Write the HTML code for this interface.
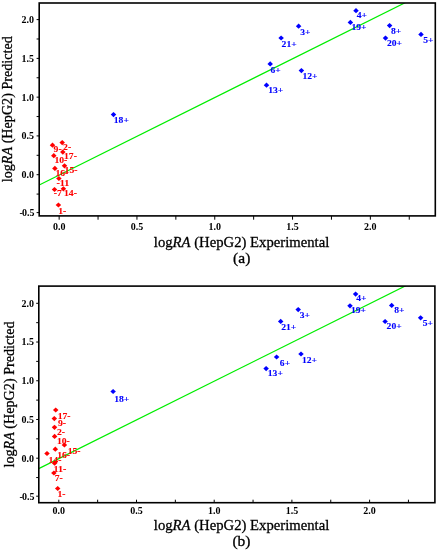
<!DOCTYPE html>
<html><head><meta charset="utf-8"><title>logRA (HepG2) Predicted vs Experimental</title>
<style>
html,body{margin:0;padding:0;background:#fff;}
svg{display:block;}
.tk{font-family:'Liberation Serif', 'Times New Roman', serif;font-weight:bold;font-size:10px;fill:#000;}
.dl{font-family:'Liberation Serif', 'Times New Roman', serif;font-weight:bold;font-size:8.9px;stroke-width:0.1px;}
.at{font-family:'Liberation Serif', 'Times New Roman', serif;font-size:15.5px;fill:#000;stroke:#000;stroke-width:0.3px;}
</style></head>
<body>
<svg width="437" height="550" viewBox="0 0 437 550">
<rect width="437" height="550" fill="#fff"/>
<clipPath id="ca"><rect x="39.2" y="3" width="396.1" height="212.9"/></clipPath>
<line x1="23.64" y1="192.85" x2="450.86" y2="-20.08" stroke="#00ee00" stroke-width="1.2" clip-path="url(#ca)"/>
<rect x="39.2" y="3" width="396.1" height="212.9" fill="none" stroke="#000" stroke-width="1.6"/>
<line x1="36.6" y1="212.6" x2="39.2" y2="212.6" stroke="#000" stroke-width="1"/>
<text x="34.5" y="216.4" text-anchor="end" class="tk">-<tspan dx="-0.9">0.5</tspan></text>
<line x1="36.6" y1="194.09" x2="39.2" y2="194.09" stroke="#000" stroke-width="1"/>
<line x1="36.6" y1="174.7" x2="39.2" y2="174.7" stroke="#000" stroke-width="1"/>
<text x="34" y="178.1" text-anchor="end" class="tk">0.0</text>
<line x1="36.6" y1="155.31" x2="39.2" y2="155.31" stroke="#000" stroke-width="1"/>
<line x1="36.6" y1="135.92" x2="39.2" y2="135.92" stroke="#000" stroke-width="1"/>
<text x="34" y="139.32" text-anchor="end" class="tk">0.5</text>
<line x1="36.6" y1="116.54" x2="39.2" y2="116.54" stroke="#000" stroke-width="1"/>
<line x1="36.6" y1="97.15" x2="39.2" y2="97.15" stroke="#000" stroke-width="1"/>
<text x="34" y="100.55" text-anchor="end" class="tk">1.0</text>
<line x1="36.6" y1="77.76" x2="39.2" y2="77.76" stroke="#000" stroke-width="1"/>
<line x1="36.6" y1="58.38" x2="39.2" y2="58.38" stroke="#000" stroke-width="1"/>
<text x="34" y="61.77" text-anchor="end" class="tk">1.5</text>
<line x1="36.6" y1="38.99" x2="39.2" y2="38.99" stroke="#000" stroke-width="1"/>
<line x1="36.6" y1="19.6" x2="39.2" y2="19.6" stroke="#000" stroke-width="1"/>
<text x="34" y="23" text-anchor="end" class="tk">2.0</text>
<line x1="59.15" y1="215.9" x2="59.15" y2="219.7" stroke="#000" stroke-width="1"/>
<text x="59.15" y="230.2" text-anchor="middle" class="tk">0.0</text>
<line x1="98.05" y1="215.9" x2="98.05" y2="219.7" stroke="#000" stroke-width="1"/>
<line x1="136.95" y1="215.9" x2="136.95" y2="219.7" stroke="#000" stroke-width="1"/>
<text x="136.95" y="230.2" text-anchor="middle" class="tk">0.5</text>
<line x1="175.85" y1="215.9" x2="175.85" y2="219.7" stroke="#000" stroke-width="1"/>
<line x1="214.75" y1="215.9" x2="214.75" y2="219.7" stroke="#000" stroke-width="1"/>
<text x="214.75" y="230.2" text-anchor="middle" class="tk">1.0</text>
<line x1="253.65" y1="215.9" x2="253.65" y2="219.7" stroke="#000" stroke-width="1"/>
<line x1="292.55" y1="215.9" x2="292.55" y2="219.7" stroke="#000" stroke-width="1"/>
<text x="292.55" y="230.2" text-anchor="middle" class="tk">1.5</text>
<line x1="331.45" y1="215.9" x2="331.45" y2="219.7" stroke="#000" stroke-width="1"/>
<line x1="370.35" y1="215.9" x2="370.35" y2="219.7" stroke="#000" stroke-width="1"/>
<text x="370.35" y="230.2" text-anchor="middle" class="tk">2.0</text>
<line x1="409.25" y1="215.9" x2="409.25" y2="219.7" stroke="#000" stroke-width="1"/>
<polygon points="356,8.1 358.75,10.7 356,13.3 353.25,10.7" fill="#0000ff"/>
<polygon points="350.4,19.8 353.15,22.4 350.4,25 347.65,22.4" fill="#0000ff"/>
<polygon points="389.6,23 392.35,25.6 389.6,28.2 386.85,25.6" fill="#0000ff"/>
<polygon points="385.5,35.5 388.25,38.1 385.5,40.7 382.75,38.1" fill="#0000ff"/>
<polygon points="421,31.8 423.75,34.4 421,37 418.25,34.4" fill="#0000ff"/>
<polygon points="298.6,23.6 301.35,26.2 298.6,28.8 295.85,26.2" fill="#0000ff"/>
<polygon points="281.1,35.4 283.85,38 281.1,40.6 278.35,38" fill="#0000ff"/>
<polygon points="270.2,61.3 272.95,63.9 270.2,66.5 267.45,63.9" fill="#0000ff"/>
<polygon points="301.4,68 304.15,70.6 301.4,73.2 298.65,70.6" fill="#0000ff"/>
<polygon points="266.5,82.6 269.25,85.2 266.5,87.8 263.75,85.2" fill="#0000ff"/>
<polygon points="113.5,112 116.25,114.6 113.5,117.2 110.75,114.6" fill="#0000ff"/>
<polygon points="52.5,142.6 55.25,145.2 52.5,147.8 49.75,145.2" fill="#ff0000"/>
<polygon points="62.2,140 64.95,142.6 62.2,145.2 59.45,142.6" fill="#ff0000"/>
<polygon points="62.8,149.5 65.55,152.1 62.8,154.7 60.05,152.1" fill="#ff0000"/>
<polygon points="53.8,153.1 56.55,155.7 53.8,158.3 51.05,155.7" fill="#ff0000"/>
<polygon points="64.5,163.2 67.25,165.8 64.5,168.4 61.75,165.8" fill="#ff0000"/>
<polygon points="54.9,165.8 57.65,168.4 54.9,171 52.15,168.4" fill="#ff0000"/>
<polygon points="58.9,175.9 61.65,178.5 58.9,181.1 56.15,178.5" fill="#ff0000"/>
<polygon points="54.5,186.9 57.25,189.5 54.5,192.1 51.75,189.5" fill="#ff0000"/>
<polygon points="63.4,186.2 66.15,188.8 63.4,191.4 60.65,188.8" fill="#ff0000"/>
<polygon points="58.4,202.4 61.15,205 58.4,207.6 55.65,205" fill="#ff0000"/>
<text x="356.66" y="17.8" class="dl" fill="#0000ff" stroke="#0000ff" textLength="10.25" lengthAdjust="spacingAndGlyphs">4+</text>
<text x="351.4" y="29.9" class="dl" fill="#0000ff" stroke="#0000ff" textLength="15.1" lengthAdjust="spacingAndGlyphs">19+</text>
<text x="390.97" y="33.5" class="dl" fill="#0000ff" stroke="#0000ff" textLength="10.25" lengthAdjust="spacingAndGlyphs">8+</text>
<text x="386.98" y="46" class="dl" fill="#0000ff" stroke="#0000ff" textLength="15.1" lengthAdjust="spacingAndGlyphs">20+</text>
<text x="423.2" y="42.9" class="dl" fill="#0000ff" stroke="#0000ff" textLength="10.25" lengthAdjust="spacingAndGlyphs">5+</text>
<text x="300.22" y="34.6" class="dl" fill="#0000ff" stroke="#0000ff" textLength="10.25" lengthAdjust="spacingAndGlyphs">3+</text>
<text x="281.58" y="46.9" class="dl" fill="#0000ff" stroke="#0000ff" textLength="15.1" lengthAdjust="spacingAndGlyphs">21+</text>
<text x="270.56" y="72.8" class="dl" fill="#0000ff" stroke="#0000ff" textLength="10.25" lengthAdjust="spacingAndGlyphs">6+</text>
<text x="302.4" y="79.3" class="dl" fill="#0000ff" stroke="#0000ff" textLength="15.1" lengthAdjust="spacingAndGlyphs">12+</text>
<text x="268.2" y="92.7" class="dl" fill="#0000ff" stroke="#0000ff" textLength="15.1" lengthAdjust="spacingAndGlyphs">13+</text>
<text x="113.8" y="122.7" class="dl" fill="#0000ff" stroke="#0000ff" textLength="15.1" lengthAdjust="spacingAndGlyphs">18+</text>
<text x="53.63" y="152.4" class="dl" fill="#ff0000" stroke="#ff0000" textLength="8.05" lengthAdjust="spacingAndGlyphs">9-</text>
<text x="63.08" y="149.7" class="dl" fill="#ff0000" stroke="#ff0000" textLength="8.05" lengthAdjust="spacingAndGlyphs">2-</text>
<text x="64" y="159" class="dl" fill="#ff0000" stroke="#ff0000" textLength="12.9" lengthAdjust="spacingAndGlyphs">17-</text>
<text x="54.4" y="163.4" class="dl" fill="#ff0000" stroke="#ff0000" textLength="12.9" lengthAdjust="spacingAndGlyphs">10-</text>
<text x="64.6" y="173.4" class="dl" fill="#ff0000" stroke="#ff0000" textLength="12.9" lengthAdjust="spacingAndGlyphs">15-</text>
<text x="55.4" y="175.5" class="dl" fill="#ff0000" stroke="#ff0000" textLength="12.9" lengthAdjust="spacingAndGlyphs">16-</text>
<text x="56.53" y="185.7" class="dl" fill="#ff0000" stroke="#ff0000" textLength="12.9" lengthAdjust="spacingAndGlyphs">-11</text>
<text x="53.73" y="196.2" class="dl" fill="#ff0000" stroke="#ff0000" textLength="8.05" lengthAdjust="spacingAndGlyphs">-7</text>
<text x="64" y="196.4" class="dl" fill="#ff0000" stroke="#ff0000" textLength="12.9" lengthAdjust="spacingAndGlyphs">14-</text>
<text x="58.3" y="213.5" class="dl" fill="#ff0000" stroke="#ff0000" textLength="8.05" lengthAdjust="spacingAndGlyphs">1-</text>
<text x="153.8" y="246.6" class="at" textLength="175.5" lengthAdjust="spacingAndGlyphs">log<tspan font-style="italic">RA</tspan> (HepG2) Experimental</text>
<text transform="translate(11.9,182.2) rotate(-90)" x="0" y="0" class="at" textLength="146" lengthAdjust="spacingAndGlyphs">log<tspan font-style="italic">RA</tspan> (HepG2) Predicted</text>
<text x="241.7" y="262.8" class="at" text-anchor="middle">(a)</text>
<clipPath id="cb"><rect x="38.8" y="286.1" width="396.1" height="216.6"/></clipPath>
<line x1="23.26" y1="476.36" x2="450.44" y2="263.46" stroke="#00ee00" stroke-width="1.2" clip-path="url(#cb)"/>
<rect x="38.8" y="286.1" width="396.1" height="216.6" fill="none" stroke="#000" stroke-width="1.6"/>
<line x1="36.2" y1="496.2" x2="38.8" y2="496.2" stroke="#000" stroke-width="1"/>
<text x="34.5" y="500" text-anchor="end" class="tk">-<tspan dx="-0.9">0.5</tspan></text>
<line x1="36.2" y1="477.56" x2="38.8" y2="477.56" stroke="#000" stroke-width="1"/>
<line x1="36.2" y1="458.2" x2="38.8" y2="458.2" stroke="#000" stroke-width="1"/>
<text x="34" y="461.6" text-anchor="end" class="tk">0.0</text>
<line x1="36.2" y1="438.84" x2="38.8" y2="438.84" stroke="#000" stroke-width="1"/>
<line x1="36.2" y1="419.47" x2="38.8" y2="419.47" stroke="#000" stroke-width="1"/>
<text x="34" y="422.87" text-anchor="end" class="tk">0.5</text>
<line x1="36.2" y1="400.11" x2="38.8" y2="400.11" stroke="#000" stroke-width="1"/>
<line x1="36.2" y1="380.75" x2="38.8" y2="380.75" stroke="#000" stroke-width="1"/>
<text x="34" y="384.15" text-anchor="end" class="tk">1.0</text>
<line x1="36.2" y1="361.39" x2="38.8" y2="361.39" stroke="#000" stroke-width="1"/>
<line x1="36.2" y1="342.02" x2="38.8" y2="342.02" stroke="#000" stroke-width="1"/>
<text x="34" y="345.42" text-anchor="end" class="tk">1.5</text>
<line x1="36.2" y1="322.66" x2="38.8" y2="322.66" stroke="#000" stroke-width="1"/>
<line x1="36.2" y1="303.3" x2="38.8" y2="303.3" stroke="#000" stroke-width="1"/>
<text x="34" y="306.7" text-anchor="end" class="tk">2.0</text>
<line x1="58.8" y1="499.7" x2="58.8" y2="502.7" stroke="#000" stroke-width="1"/>
<text x="58.8" y="514" text-anchor="middle" class="tk">0.0</text>
<line x1="97.65" y1="499.7" x2="97.65" y2="502.7" stroke="#000" stroke-width="1"/>
<line x1="136.5" y1="499.7" x2="136.5" y2="502.7" stroke="#000" stroke-width="1"/>
<text x="136.5" y="514" text-anchor="middle" class="tk">0.5</text>
<line x1="175.35" y1="499.7" x2="175.35" y2="502.7" stroke="#000" stroke-width="1"/>
<line x1="214.2" y1="499.7" x2="214.2" y2="502.7" stroke="#000" stroke-width="1"/>
<text x="214.2" y="514" text-anchor="middle" class="tk">1.0</text>
<line x1="253.05" y1="499.7" x2="253.05" y2="502.7" stroke="#000" stroke-width="1"/>
<line x1="291.9" y1="499.7" x2="291.9" y2="502.7" stroke="#000" stroke-width="1"/>
<text x="291.9" y="514" text-anchor="middle" class="tk">1.5</text>
<line x1="330.75" y1="499.7" x2="330.75" y2="502.7" stroke="#000" stroke-width="1"/>
<line x1="369.6" y1="499.7" x2="369.6" y2="502.7" stroke="#000" stroke-width="1"/>
<text x="369.6" y="514" text-anchor="middle" class="tk">2.0</text>
<line x1="408.45" y1="499.7" x2="408.45" y2="502.7" stroke="#000" stroke-width="1"/>
<polygon points="355.6,291.5 358.35,294.1 355.6,296.7 352.85,294.1" fill="#0000ff"/>
<polygon points="350,303.2 352.75,305.8 350,308.4 347.25,305.8" fill="#0000ff"/>
<polygon points="391.7,302.8 394.45,305.4 391.7,308 388.95,305.4" fill="#0000ff"/>
<polygon points="385.1,318.9 387.85,321.5 385.1,324.1 382.35,321.5" fill="#0000ff"/>
<polygon points="420.6,315.2 423.35,317.8 420.6,320.4 417.85,317.8" fill="#0000ff"/>
<polygon points="298.2,307 300.95,309.6 298.2,312.2 295.45,309.6" fill="#0000ff"/>
<polygon points="280.7,318.8 283.45,321.4 280.7,324 277.95,321.4" fill="#0000ff"/>
<polygon points="276.6,354.4 279.35,357 276.6,359.6 273.85,357" fill="#0000ff"/>
<polygon points="301,351.4 303.75,354 301,356.6 298.25,354" fill="#0000ff"/>
<polygon points="266.1,366 268.85,368.6 266.1,371.2 263.35,368.6" fill="#0000ff"/>
<polygon points="113.1,388.9 115.85,391.5 113.1,394.1 110.35,391.5" fill="#0000ff"/>
<polygon points="55.7,407.4 58.45,410 55.7,412.6 52.95,410" fill="#ff0000"/>
<polygon points="54.3,416 57.05,418.6 54.3,421.2 51.55,418.6" fill="#ff0000"/>
<polygon points="54.5,424.7 57.25,427.3 54.5,429.9 51.75,427.3" fill="#ff0000"/>
<polygon points="54.6,433.8 57.35,436.4 54.6,439 51.85,436.4" fill="#ff0000"/>
<polygon points="64.4,442.4 67.15,445 64.4,447.6 61.65,445" fill="#ff0000"/>
<polygon points="55.3,446.6 58.05,449.2 55.3,451.8 52.55,449.2" fill="#ff0000"/>
<polygon points="47,450.9 49.75,453.5 47,456.1 44.25,453.5" fill="#ff0000"/>
<polygon points="54.6,460.6 57.35,463.2 54.6,465.8 51.85,463.2" fill="#ff0000"/>
<polygon points="53.9,470.4 56.65,473 53.9,475.6 51.15,473" fill="#ff0000"/>
<polygon points="57.7,485.9 60.45,488.5 57.7,491.1 54.95,488.5" fill="#ff0000"/>
<text x="356.26" y="301.2" class="dl" fill="#0000ff" stroke="#0000ff" textLength="10.25" lengthAdjust="spacingAndGlyphs">4+</text>
<text x="351" y="313.3" class="dl" fill="#0000ff" stroke="#0000ff" textLength="15.1" lengthAdjust="spacingAndGlyphs">19+</text>
<text x="394.17" y="313.4" class="dl" fill="#0000ff" stroke="#0000ff" textLength="10.25" lengthAdjust="spacingAndGlyphs">8+</text>
<text x="386.58" y="329.4" class="dl" fill="#0000ff" stroke="#0000ff" textLength="15.1" lengthAdjust="spacingAndGlyphs">20+</text>
<text x="422.8" y="326.3" class="dl" fill="#0000ff" stroke="#0000ff" textLength="10.25" lengthAdjust="spacingAndGlyphs">5+</text>
<text x="299.82" y="318" class="dl" fill="#0000ff" stroke="#0000ff" textLength="10.25" lengthAdjust="spacingAndGlyphs">3+</text>
<text x="281.18" y="330.3" class="dl" fill="#0000ff" stroke="#0000ff" textLength="15.1" lengthAdjust="spacingAndGlyphs">21+</text>
<text x="279.86" y="365.5" class="dl" fill="#0000ff" stroke="#0000ff" textLength="10.25" lengthAdjust="spacingAndGlyphs">6+</text>
<text x="302" y="362.7" class="dl" fill="#0000ff" stroke="#0000ff" textLength="15.1" lengthAdjust="spacingAndGlyphs">12+</text>
<text x="267.8" y="376.1" class="dl" fill="#0000ff" stroke="#0000ff" textLength="15.1" lengthAdjust="spacingAndGlyphs">13+</text>
<text x="114.2" y="401.8" class="dl" fill="#0000ff" stroke="#0000ff" textLength="15.1" lengthAdjust="spacingAndGlyphs">18+</text>
<text x="57.7" y="419.3" class="dl" fill="#ff0000" stroke="#ff0000" textLength="12.9" lengthAdjust="spacingAndGlyphs">17-</text>
<text x="58.03" y="426.2" class="dl" fill="#ff0000" stroke="#ff0000" textLength="8.05" lengthAdjust="spacingAndGlyphs">9-</text>
<text x="56.98" y="434.7" class="dl" fill="#ff0000" stroke="#ff0000" textLength="8.05" lengthAdjust="spacingAndGlyphs">2-</text>
<text x="56.9" y="443.9" class="dl" fill="#ff0000" stroke="#ff0000" textLength="12.9" lengthAdjust="spacingAndGlyphs">10-</text>
<text x="67.7" y="453.7" class="dl" fill="#ff0000" stroke="#ff0000" textLength="12.9" lengthAdjust="spacingAndGlyphs">15-</text>
<text x="57.2" y="458.3" class="dl" fill="#ff0000" stroke="#ff0000" textLength="12.9" lengthAdjust="spacingAndGlyphs">16-</text>
<text x="48.5" y="463.3" class="dl" fill="#ff0000" stroke="#ff0000" textLength="12.9" lengthAdjust="spacingAndGlyphs">14-</text>
<text x="53.5" y="471.8" class="dl" fill="#ff0000" stroke="#ff0000" textLength="12.9" lengthAdjust="spacingAndGlyphs">11-</text>
<text x="54.73" y="481.4" class="dl" fill="#ff0000" stroke="#ff0000" textLength="8.05" lengthAdjust="spacingAndGlyphs">7-</text>
<text x="57.5" y="496.9" class="dl" fill="#ff0000" stroke="#ff0000" textLength="8.05" lengthAdjust="spacingAndGlyphs">1-</text>
<text x="153.8" y="530.1" class="at" textLength="175.5" lengthAdjust="spacingAndGlyphs">log<tspan font-style="italic">RA</tspan> (HepG2) Experimental</text>
<text transform="translate(13.6,467.5) rotate(-90)" x="0" y="0" class="at" textLength="146" lengthAdjust="spacingAndGlyphs">log<tspan font-style="italic">RA</tspan> (HepG2) Predicted</text>
<text x="241.5" y="546" class="at" text-anchor="middle">(b)</text>
</svg>
</body></html>
